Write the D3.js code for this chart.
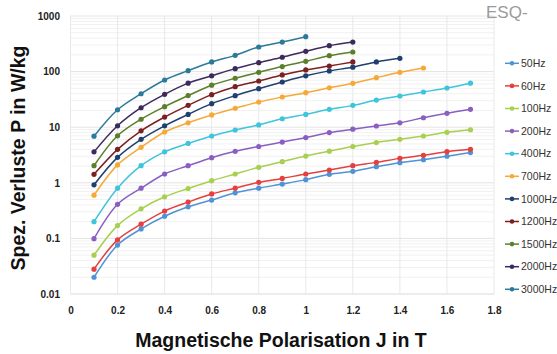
<!DOCTYPE html>
<html>
<head>
<meta charset="utf-8">
<script src="https://cdn.jsdelivr.net/npm/d3@7/dist/d3.min.js"></script>
<style>
  html, body { margin: 0; padding: 0; background: #fff; }
  svg { display: block; }
</style>
</head>
<body>
<svg id="chart" width="557" height="354"></svg>
<script>
// Polarisation points (T) at which losses were measured
const polarisation = [0.1, 0.2, 0.3, 0.4, 0.5, 0.6, 0.7, 0.8, 0.9, 1.0, 1.1, 1.2, 1.3, 1.4, 1.5, 1.6, 1.7];

// Specific losses P (W/kg) per frequency, starting at J = 0.1 T
const p50Hz   = [0.020, 0.076, 0.148, 0.25, 0.37, 0.49, 0.66, 0.80, 0.95, 1.14, 1.42, 1.61, 1.95, 2.3, 2.6, 3.0, 3.5];
const p60Hz   = [0.028, 0.094, 0.18, 0.31, 0.45, 0.63, 0.80, 1.02, 1.2, 1.44, 1.70, 2.03, 2.33, 2.75, 3.12, 3.63, 4.0];
const p100Hz  = [0.050, 0.17, 0.34, 0.56, 0.79, 1.09, 1.44, 1.9, 2.4, 3.03, 3.7, 4.5, 5.3, 6.05, 6.95, 8.1, 9.0];
const p200Hz  = [0.099, 0.41, 0.80, 1.44, 2.03, 2.83, 3.68, 4.5, 5.4, 6.5, 8.0, 9.2, 10.5, 12, 14.8, 17.8, 21];
const p400Hz  = [0.20, 0.80, 2.03, 3.6, 5.1, 6.95, 8.9, 11, 14.2, 17, 21, 24.7, 30.8, 36.4, 43, 50.7, 62];
const p700Hz  = [0.60, 2.1, 4.35, 8.2, 12, 16.6, 21.9, 28.4, 34.9, 41.8, 51, 61.5, 77.6, 97, 116];
const p1000Hz = [0.92, 2.87, 6.05, 10.6, 17, 26.5, 36.9, 49.3, 65, 84, 103, 120, 149, 173];
const p1200Hz = [1.42, 4.0, 8.6, 15.2, 24.7, 38.5, 53.6, 67.8, 87, 107, 126, 149];
const p1500Hz = [2.03, 7.0, 13.9, 23.4, 37, 57, 76, 97, 123, 153, 193, 225];
const p2000Hz = [3.6, 10.6, 22.4, 39, 62, 84, 113, 145, 181, 232, 292, 340];
const p3000Hz = [6.9, 20.6, 40, 70.6, 104, 149, 196, 277, 340, 424];

const seriesNames = ["50Hz", "60Hz", "100Hz", "200Hz", "400Hz", "700Hz", "1000Hz", "1200Hz", "1500Hz", "2000Hz", "3000Hz"];
const seriesValues = [p50Hz, p60Hz, p100Hz, p200Hz, p400Hz, p700Hz, p1000Hz, p1200Hz, p1500Hz, p2000Hz, p3000Hz];
const seriesColors = ["#4f93d6", "#e5403d", "#a8cf4f", "#8a5fc2", "#3ec4dc", "#f6a938", "#1f3f6e", "#7a2020", "#5b7f2b", "#3c2a5e", "#2c7a99"];

const xTicks = [0, 0.2, 0.4, 0.6, 0.8, 1, 1.2, 1.4, 1.6, 1.8];
const yTicks = [0.01, 0.1, 1, 10, 100, 1000];
const yTickLabels = ["0.01", "0.1", "1", "10", "100", "1000"];

const xTitle = "Magnetische Polarisation J in T";
const yTitle = "Spez. Verluste P in W/kg";
const cornerText = "ESQ-";

const svg = d3.select("#chart");

const x = d3.scaleLinear().domain([0, 1.8]).range([70.5, 494]);
const y = d3.scaleLog().domain([0.01, 1000]).range([294, 16]);

// Minor log grid
const minor = [];
for (let e = -2; e < 3; e++) for (let m = 2; m <= 9; m++) minor.push(m * Math.pow(10, e));
svg.append("g").selectAll("line").data(minor).join("line")
  .attr("x1", x(0)).attr("x2", x(1.8))
  .attr("y1", d => y(d)).attr("y2", d => y(d))
  .attr("stroke", "#f1f1f1").attr("stroke-width", 1);

// Major grid
svg.append("g").selectAll("line").data(yTicks).join("line")
  .attr("x1", x(0)).attr("x2", x(1.8))
  .attr("y1", d => y(d)).attr("y2", d => y(d))
  .attr("stroke", d => d === 0.01 ? "#d9d9d9" : "#e4e4e4").attr("stroke-width", 1);
svg.append("g").selectAll("line").data(xTicks).join("line")
  .attr("x1", d => x(d)).attr("x2", d => x(d))
  .attr("y1", y(1000)).attr("y2", y(0.01))
  .attr("stroke", "#e8e8e8").attr("stroke-width", 1);

// Axes (labels only)
const xAxis = d3.axisBottom(x).tickValues(xTicks).tickSize(0).tickPadding(0)
  .tickFormat(d => String(d));
const gx = svg.append("g").attr("transform", `translate(0,${y(0.01) + 23})`).call(xAxis);
gx.select(".domain").remove();
gx.selectAll("text").attr("font-family", "Liberation Sans, Arial, sans-serif")
  .attr("font-size", 10).attr("font-weight", "bold").attr("fill", "#222").attr("dy", "-0.35em");

const yAxis = d3.axisLeft(y).tickValues(yTicks).tickSize(0).tickPadding(0)
  .tickFormat((d, i) => yTickLabels[i]);
const gy = svg.append("g").attr("transform", `translate(60,0)`).call(yAxis);
gy.select(".domain").remove();
gy.selectAll("text").attr("font-family", "Liberation Sans, Arial, sans-serif")
  .attr("font-size", 10).attr("font-weight", "bold").attr("fill", "#222");

// Curves and markers
const line = d3.line()
  .x((d, i) => x(polarisation[i]))
  .y(d => y(d))
  .curve(d3.curveCatmullRom.alpha(0.5));

seriesValues.forEach((vals, si) => {
  const g = svg.append("g");
  g.append("path").datum(vals)
    .attr("d", line)
    .attr("fill", "none")
    .attr("stroke", seriesColors[si])
    .attr("stroke-width", 1.5);
  g.selectAll("circle").data(vals).join("circle")
    .attr("cx", (d, i) => x(polarisation[i]))
    .attr("cy", d => y(d))
    .attr("r", 2.6)
    .attr("fill", seriesColors[si]);
});

// Legend
const legend = svg.append("g").attr("transform", "translate(505,63.3)");
seriesNames.forEach((name, i) => {
  const row = legend.append("g").attr("transform", `translate(0,${i * 22.6})`);
  row.append("line").attr("x1", 0).attr("x2", 14).attr("y1", 0).attr("y2", 0)
    .attr("stroke", seriesColors[i]).attr("stroke-width", 1.5);
  row.append("circle").attr("cx", 7).attr("cy", 0).attr("r", 2.3).attr("fill", seriesColors[i]);
  row.append("text").attr("x", 16).attr("y", 0).attr("dy", "0.36em")
    .attr("font-family", "Liberation Sans, Arial, sans-serif")
    .attr("font-size", 10.5).attr("fill", "#333").text(name);
});

// Axis titles
svg.append("text")
  .attr("x", 281).attr("y", 347)
  .attr("text-anchor", "middle")
  .attr("font-family", "Liberation Sans, Arial, sans-serif")
  .attr("font-size", 19.5).attr("font-weight", "bold").attr("fill", "#111")
  .text(xTitle);

svg.append("text")
  .attr("transform", "translate(25,158) rotate(-90)")
  .attr("text-anchor", "middle")
  .attr("font-family", "Liberation Sans, Arial, sans-serif")
  .attr("font-size", 19.5).attr("font-weight", "bold").attr("fill", "#111")
  .text(yTitle);

// Corner mark
svg.append("text")
  .attr("x", 486).attr("y", 18)
  .attr("font-family", "Liberation Sans, Arial, sans-serif")
  .attr("font-size", 17).attr("fill", "#9a9a9a")
  .text(cornerText);
</script>
</body>
</html>
